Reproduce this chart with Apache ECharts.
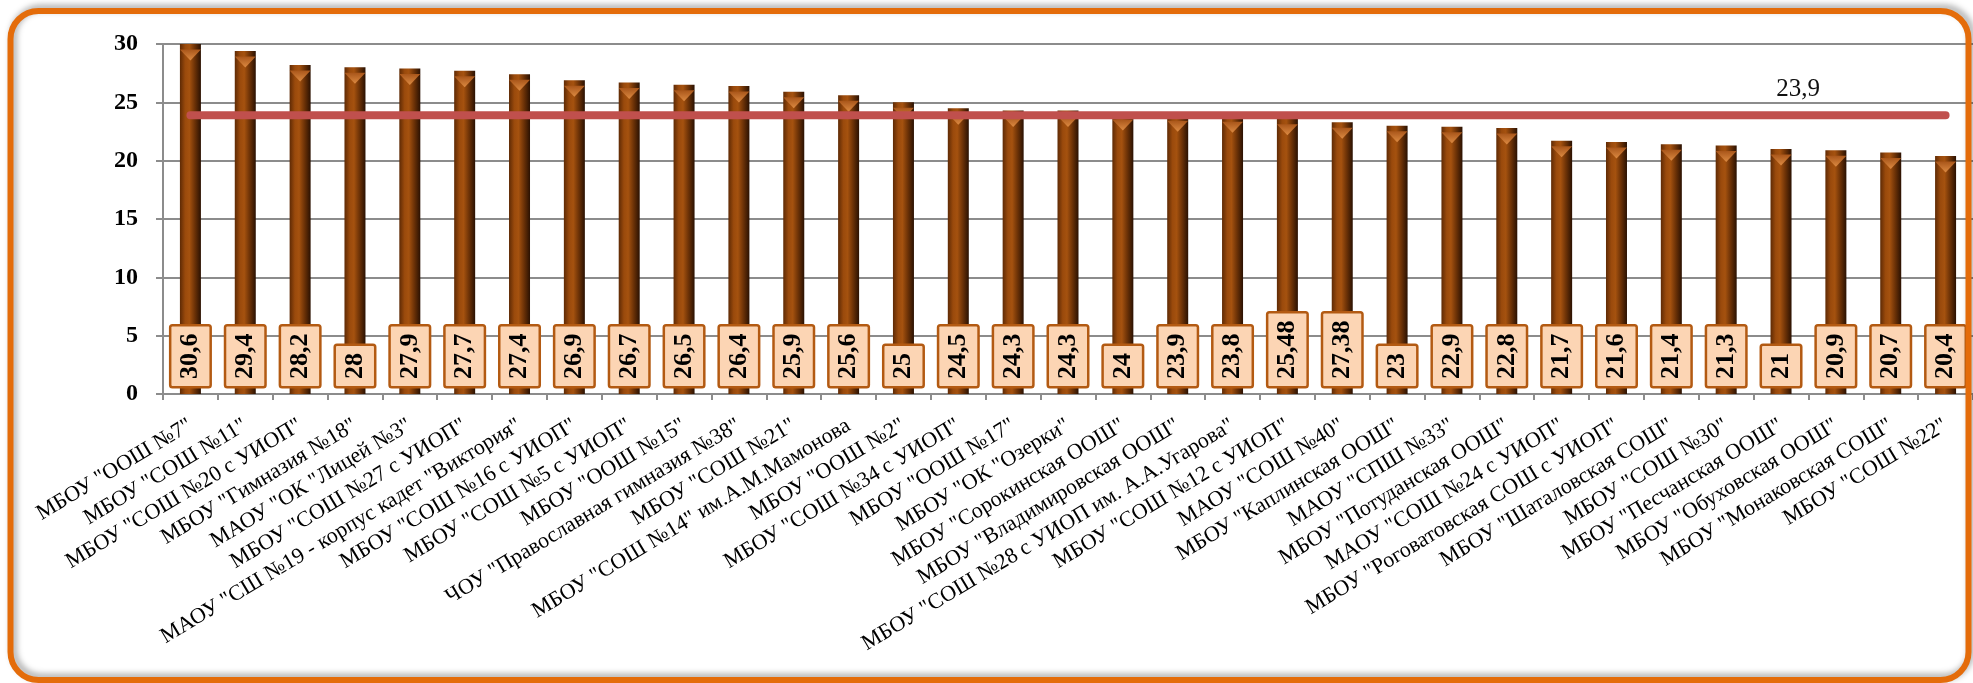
<!DOCTYPE html>
<html>
<head>
<meta charset="utf-8">
<script src="https://cdn.jsdelivr.net/npm/echarts@6/dist/echarts.min.js"></script>
<style>
html,body{margin:0;padding:0;background:#fff;}
#chart{width:1973px;height:683px;}
</style>
</head>
<body>
<div id="chart"></div>
<script>
const categories = [
  'МБОУ "ООШ №7"',
  'МБОУ "СОШ №11"',
  'МБОУ "СОШ №20 с УИОП"',
  'МБОУ "Гимназия №18"',
  'МАОУ "ОК "Лицей №3"',
  'МБОУ "СОШ №27 с УИОП"',
  'МАОУ "СШ №19 - корпус кадет "Виктория"',
  'МБОУ "СОШ №16 с УИОП"',
  'МБОУ "СОШ №5 с УИОП"',
  'МБОУ "ООШ №15"',
  'ЧОУ "Православная гимназия №38"',
  'МБОУ "СОШ №21"',
  'МБОУ "СОШ №14" им.А.М.Мамонова',
  'МБОУ "ООШ №2"',
  'МБОУ "СОШ №34 с УИОП"',
  'МБОУ "ООШ №17"',
  'МБОУ "ОК "Озерки"',
  'МБОУ "Сорокинская ООШ"',
  'МБОУ "Владимировская ООШ"',
  'МБОУ "СОШ №28 с УИОП им. А.А.Угарова"',
  'МБОУ "СОШ №12 с УИОП"',
  'МАОУ "СОШ №40"',
  'МБОУ "Каплинская ООШ"',
  'МАОУ "СПШ №33"',
  'МБОУ "Потуданская ООШ"',
  'МАОУ "СОШ №24 с УИОП"',
  'МБОУ "Роговатовская СОШ с УИОП"',
  'МБОУ "Шаталовская СОШ"',
  'МБОУ "СОШ №30"',
  'МБОУ "Песчанская ООШ"',
  'МБОУ "Обуховская ООШ"',
  'МБОУ "Монаковская СОШ"',
  'МБОУ "СОШ №22"'
];
const barValues = [30.6, 29.4, 28.2, 28, 27.9, 27.7, 27.4, 26.9, 26.7, 26.5, 26.4, 25.9, 25.6, 25, 24.5, 24.3, 24.3, 24, 23.9, 23.8, 23.6, 23.3, 23, 22.9, 22.8, 21.7, 21.6, 21.4, 21.3, 21, 20.9, 20.7, 20.4];
const barLabels = ['30,6', '29,4', '28,2', '28', '27,9', '27,7', '27,4', '26,9', '26,7', '26,5', '26,4', '25,9', '25,6', '25', '24,5', '24,3', '24,3', '24', '23,9', '23,8', '25,48', '27,38', '23', '22,9', '22,8', '21,7', '21,6', '21,4', '21,3', '21', '20,9', '20,7', '20,4'];
const averageValue = 23.9;
const averageLabel = '23,9';
const averageLabelIndex = 29;
const yTicks = [0, 5, 10, 15, 20, 25, 30];

const Y_MAX = yTicks[yTicks.length - 1];
const SERIF = '"Liberation Serif", "Times New Roman", serif';

const chart = echarts.init(document.getElementById('chart'), null, {renderer: 'canvas'});

const barGradient = new echarts.graphic.LinearGradient(0, 0, 1, 0, [
  {offset: 0, color: '#5e2a05'},
  {offset: 0.25, color: '#9a4a0c'},
  {offset: 0.45, color: '#a5520f'},
  {offset: 0.7, color: '#6e3307'},
  {offset: 1, color: '#2a1102'}
]);
const capGradient = new echarts.graphic.LinearGradient(0, 0, 0, 1, [
  {offset: 0, color: '#dc8a42'},
  {offset: 1, color: '#a9561a'}
]);

const lineData = categories.map((c, i) => {
  if (i === averageLabelIndex) {
    return {
      value: averageValue,
      label: {
        show: true,
        position: 'top',
        offset: [17, -8],
        formatter: averageLabel,
        fontFamily: SERIF,
        fontSize: 25,
        color: '#111'
      }
    };
  }
  return averageValue;
});

const option = {
  animation: false,
  backgroundColor: '#ffffff',
  graphic: [
    {
      type: 'rect',
      z: 100,
      silent: true,
      shape: {x: 10.5, y: 11, width: 1958, height: 669, r: 28},
      style: {
        fill: 'none',
        stroke: '#E46C0A',
        lineWidth: 6,
        shadowColor: 'rgba(0,0,0,0.35)',
        shadowBlur: 6,
        shadowOffsetX: 3,
        shadowOffsetY: -3
      }
    }
  ],
  grid: {
    left: 163,
    top: 44,
    height: 350,
    width: 1812,
    containLabel: false
  },
  xAxis: {
    type: 'category',
    data: categories,
    boundaryGap: true,
    axisLine: {show: true, lineStyle: {color: '#8c8c8c', width: 2}},
    axisTick: {show: true, interval: 0, length: 6, lineStyle: {color: '#8c8c8c', width: 2}},
    axisLabel: {
      interval: 0,
      rotate: 31,
      margin: 30,
      fontFamily: SERIF,
      fontSize: 22,
      color: '#000'
    },
    splitLine: {show: false}
  },
  yAxis: {
    type: 'value',
    min: 0,
    max: Y_MAX,
    interval: 5,
    axisLine: {show: true, lineStyle: {color: '#8c8c8c', width: 2}},
    axisTick: {show: true, length: 7, lineStyle: {color: '#8c8c8c', width: 2}},
    axisLabel: {
      margin: 25,
      fontFamily: SERIF,
      fontWeight: 'bold',
      fontSize: 24,
      color: '#000'
    },
    splitLine: {show: true, lineStyle: {color: '#8c8c8c', width: 2}}
  },
  series: [
    {
      type: 'bar',
      data: barValues,
      barWidth: 21,
      z: 2,
      itemStyle: {color: barGradient},
      label: {
        show: true,
        position: 'insideBottom',
        distance: 8,
        rotate: 90,
        align: 'left',
        verticalAlign: 'middle',
        formatter: p => barLabels[p.dataIndex],
        fontFamily: SERIF,
        fontWeight: 'bold',
        fontSize: 26,
        lineHeight: 26,
        color: '#000',
        backgroundColor: '#FCD5B4',
        borderColor: '#B35A12',
        borderWidth: 2.5,
        borderRadius: 1,
        padding: [6, 7, 6, 7]
      }
    },
    {
      type: 'pictorialBar',
      data: barValues.map(v => Math.min(v, Y_MAX)),
      symbol: 'triangle',
      symbolRotate: 180,
      symbolSize: [21, 11],
      symbolPosition: 'end',
      symbolOffset: [0, '50%'],
      barGap: '-100%',
      z: 3,
      silent: true,
      itemStyle: {color: capGradient}
    },
    {
      type: 'line',
      data: lineData,
      showSymbol: true,
      symbol: 'circle',
      symbolSize: 1,
      z: 5,
      itemStyle: {color: '#C0504D'},
      lineStyle: {color: '#C0504D', width: 8, cap: 'round'},
      label: {show: false}
    }
  ]
};
chart.setOption(option);
</script>
</body>
</html>
